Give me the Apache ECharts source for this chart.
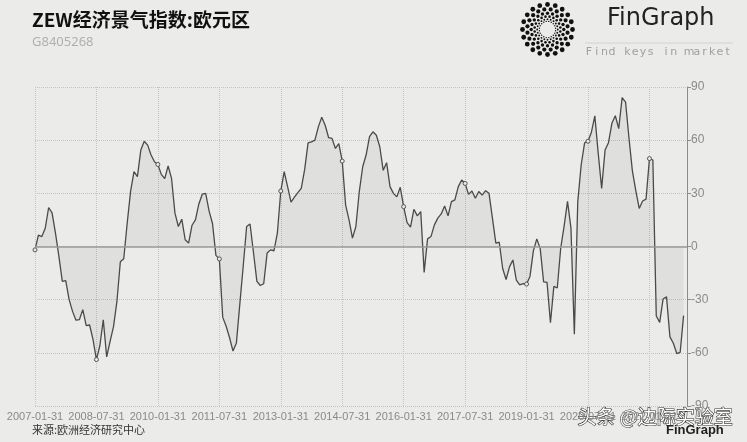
<!DOCTYPE html>
<html><head><meta charset="utf-8">
<script src="https://cdn.jsdelivr.net/npm/echarts@6/dist/echarts.min.js"></script>
<style>html,body{margin:0;padding:0;background:#ebebe9;}#c{width:747px;height:442px;}</style>
</head><body><div id="c"></div>
<script>
// ---- data ----
const startYear = 2007, startMonth = 0, nCategories = 192;
const values = [
 -1.9, 6.4, 5.6, 10.3, 22, 19, 7.5, -5.6, -19.7, -19.3, -30, -36.6,
 -41.6, -41.3, -35.6, -44.6, -44.3, -52.5, -63.8, -56, -41.4, -62.3, -53.5, -45.2,
 -31.0, -8.6, -6.9, 13.0, 31.1, 42.2, 39.4, 54.4, 59.4, 57.2, 51.6, 47.8,
 46.3, 40.7, 38.3, 45.4, 38.4, 18.8, 11.3, 15.4, 3.8, 1.9, 12, 15,
 24, 29.5, 30, 20, 13, -5, -7, -40, -45, -51.5, -59, -54.4,
 -32.5, -11.0, 11.3, 12.7, -3.4, -19.7, -22, -21, -3.7, -1.9, -2.4, 7.5,
 31.3, 42.2, 33.8, 25, 27.8, 30.4, 32.8, 43.5, 58.5, 59, 60, 67.5,
 73, 68.4, 61.5, 61, 55.3, 58, 48.2, 23.4, 15, 4.7, 11.3, 31,
 45, 51.6, 62, 64.7, 62.8, 56.3, 43, 47.3, 33.8, 30, 28, 33.4,
 22.5, 13.5, 10.9, 21, 17.3, 19.7, -14.6, 4.3, 5.6, 12.2, 16, 18.4,
 22.9, 17.3, 25.3, 26.3, 33.8, 37.5, 35.6, 29.4, 31.3, 27.2, 31, 29,
 31.5, 30, 16, 1.9, 2.4, -12.4, -18.6, -11.5, -7.6, -19, -21.6, -21,
 -21.2, -16.9, -2.5, 4.3, -1.2, -20, -20.3, -43, -22.5, -23.4, -1, 11.5,
 25.5, 10.5, -49.5, 25.2, 46, 58.5, 59.4, 64.5, 73.7, 52.4, 32.8, 54.4,
 58.6, 69.5, 73.8, 66.5, 84, 81.5, 61.2, 42.7, 31.5, 21.5, 25.7, 26.7,
 49.6, 48.8, -39.2, -42.8, -29.6, -28.4, -51, -54.6, -60.4, -59.7, -39
];
const yTicks = {min: -90, max: 90, interval: 30};
const titleText = 'ZEW经济景气指数:欧元区';
const subtitleText = 'G8405268';
const sourceText = '来源:欧洲经济研究中心';
const sloganText = 'Find keys in market';

const categories = [];
for (let i = 0; i < nCategories; i++) {
  const y = startYear + Math.floor((startMonth + i) / 12);
  const m = (startMonth + i) % 12;
  const d = new Date(y, m + 1, 0).getDate();
  categories.push(y + '-' + String(m + 1).padStart(2, '0') + '-' + String(d).padStart(2, '0'));
}

// ---- logo decoration ----
const logoGraphics = [];
const cx = 547.5, cy = 29.5;
const rings = [[25, 2.4], [20.3, 2.1], [16.3, 1.7], [13, 1.3], [10.3, 0.95], [8.2, 0.7]];
const nDots = 20;
rings.forEach(([r, s], k) => {
  for (let j = 0; j < nDots; j++) {
    const a = (j + k * 0.5) / nDots * Math.PI * 2;
    logoGraphics.push({type: 'circle', silent: true, shape: {cx: cx + r * Math.cos(a), cy: cy + r * Math.sin(a), r: s}, style: {fill: '#111'}});
  }
});
// slogan letters spaced out
const sloganGraphics = [];
for (let i = 0; i < sloganText.length; i++) {
  sloganGraphics.push({type: 'text', silent: true, x: 589 + i * 7.7, y: 52,
    style: {text: sloganText[i], font: '11px "DejaVu Sans", sans-serif', fill: '#a0a0a0', align: 'center', verticalAlign: 'middle'}});
}

const chart = echarts.init(document.getElementById('c'), null, {renderer: 'canvas'});
const narrow = '"Liberation Sans Narrow", "Arial Narrow", sans-serif';
chart.setOption({
  backgroundColor: '#ebebe9',
  animation: false,
  grid: {left: 35, right: 60, top: 87, bottom: 36},
  xAxis: {
    type: 'category', data: categories, boundaryGap: false,
    axisLine: {show: false}, axisTick: {show: false},
    axisLabel: {interval: 17, color: '#8a8a8a', fontSize: 11, fontFamily: narrow, margin: 5},
    splitLine: {show: true, interval: 17, lineStyle: {type: 'dotted', color: '#c4c4c4', width: 1}}
  },
  yAxis: {
    type: 'value', position: 'right', min: yTicks.min, max: yTicks.max, interval: yTicks.interval,
    axisLine: {show: true, lineStyle: {color: '#8c8c8c', width: 1}},
    axisTick: {show: true, length: 4, lineStyle: {color: '#8c8c8c'}},
    axisLabel: {color: '#8a8a8a', fontSize: 12, fontFamily: narrow, margin: 4},
    splitLine: {show: true, lineStyle: {type: 'dotted', color: '#c4c4c4', width: 1}}
  },
  series: [{
    type: 'line', data: values,
    showSymbol: true, showAllSymbol: true, symbol: 'circle',
    symbolSize: (v, p) => (p.dataIndex % 18 === 0 ? 4 : 0),
    itemStyle: {color: '#ebebe9', borderColor: '#555', borderWidth: 1},
    lineStyle: {color: '#4a4a4a', width: 1.3},
    areaStyle: {color: 'rgba(0,0,0,0.065)', origin: 0},
    emphasis: {disabled: true},
    markLine: {silent: true, symbol: 'none', label: {show: false},
      lineStyle: {type: 'solid', color: '#9a9a9a', width: 1.5}, data: [{yAxis: 0}]}
  }],
  graphic: [
    {type: 'text', left: 32, top: 10, style: {text: titleText, font: 'bold 19px "Noto Sans CJK SC", sans-serif', fill: '#111'}},
    {type: 'text', left: 32, top: 36, style: {text: subtitleText, font: '13px "Noto Sans", sans-serif', fill: '#b0b0b0'}},
    {type: 'text', left: 32, top: 424, style: {text: sourceText, font: '11px "Noto Sans CJK SC", sans-serif', fill: '#333'}},
    ...logoGraphics,
    {type: 'text', left: 607, top: 7, style: {text: 'FinGraph', font: '24px "DejaVu Sans", sans-serif', fill: '#222'}},
    {type: 'line', silent: true, shape: {x1: 585, y1: 43, x2: 733, y2: 43}, style: {stroke: '#d2d2d2', lineWidth: 1}},
    ...sloganGraphics,
    {type: 'text', left: 577, top: 407, style: {text: '头条 @边际实验室', font: '19px "Noto Sans CJK SC", sans-serif', fill: '#ffffff', stroke: '#333', lineWidth: 1.2}},
    {type: 'text', left: 666, top: 424, style: {text: 'FinGraph', font: 'bold 13px "Liberation Sans", sans-serif', fill: '#222'}}
  ]
});
</script></body></html>
